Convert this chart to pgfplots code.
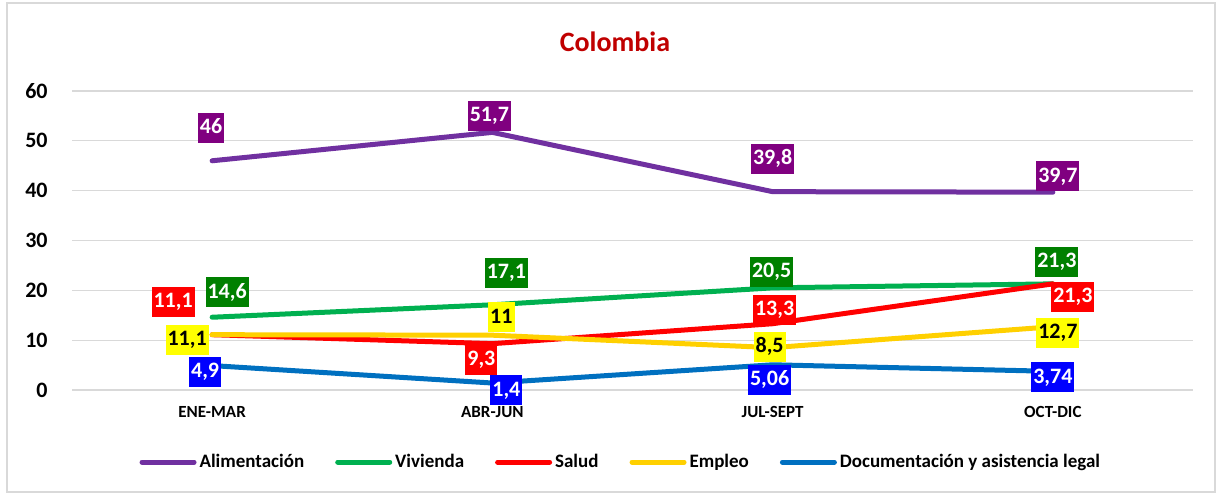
\documentclass[border=0pt]{standalone}
\usepackage{pgfplots}
\pgfplotsset{compat=1.18}
\usepackage{fontspec}
\setmainfont{Carlito}
\definecolor{cAli}{HTML}{7030A0}
\definecolor{cViv}{HTML}{00B050}
\definecolor{cSal}{HTML}{FF0000}
\definecolor{cEmp}{HTML}{FFD000}
\definecolor{cDoc}{HTML}{0070C0}
\definecolor{bAli}{HTML}{800080}
\definecolor{bViv}{HTML}{008000}
\definecolor{bSal}{HTML}{FF0000}
\definecolor{bEmp}{HTML}{FFFF00}
\definecolor{bDoc}{HTML}{0000FF}
\definecolor{cTitle}{HTML}{C00000}
\definecolor{gridc}{HTML}{D9D9D9}
\definecolor{framec}{HTML}{D9D9D9}

\pgfplotstableread{
x y lab dx dy
0 46   46   -0.5 16.5
1 51.7 51,7 -1.5 8.25
2 39.8 39,8 0 16.5
3 39.7 39,7 2.5 8
}\tAli
\pgfplotstableread{
x y lab dx dy
0 14.6 14,6 7.5 12.5
1 17.1 17,1 7 16
2 20.5 20,5 -0.5 8
3 21.3 21,3 2 11
}\tViv
\pgfplotstableread{
x y lab dx dy
0 11.1 11,1 -19.5 16.5
1 9.3  9,3  -5.5 -8
2 13.3 13,3 1 7
3 21.3 21,3 10 -6.5
}\tSal
\pgfplotstableread{
x y lab dx dy
0 11.1 11,1 -12.5 -2.5
1 11   11   4.5 9
2 8.5  8,5  -1.5 0.5
3 12.7 12,7 2.5 -3
}\tEmp
\pgfplotstableread{
x y lab dx dy
0 4.9  4,9  -3.5 -3
1 1.4  1,4  7 -3.5
2 5.06 5,06 -1.5 -7.5
3 3.74 3,74 0 -3
}\tDoc

\pgfplotsset{
  lab/.style 2 args={
    line width=2.5pt, color=#1, line cap=round, line join=round, mark=none,
    point meta=explicit symbolic,
    visualization depends on={\thisrow{dx} \as \dx},
    visualization depends on={\thisrow{dy} \as \dy},
    nodes near coords={\pgfplotspointmeta},
    nodes near coords style={anchor=center, xshift=\dx, yshift=\dy,
      fill=#2, font=\bfseries\fontsize{11}{12}\selectfont,
      text height=8pt, text depth=2pt, inner xsep=1pt, inner ysep=2.5pt},
  },
}

\begin{document}
\begin{tikzpicture}
\fill[white] (0pt,0pt) rectangle (611.5pt,247.5pt);
\draw[color=framec, line width=0.7pt] (3.5pt,1.5pt) rectangle (607.5pt,246pt);
\node[font=\bfseries\fontsize{14}{16}\selectfont, text=cTitle] at (307.5pt,226.5pt) {Colombia};
\begin{axis}[
  at={(36pt,52.5pt)}, anchor=south west,
  scale only axis, width=560.5pt, height=149.5pt,
  xmin=-0.5, xmax=3.5, ymin=0, ymax=60,
  xtick={0,1,2,3},
  xticklabels={ENE-MAR,ABR-JUN,JUL-SEPT,OCT-DIC},
  ytick={0,10,...,60},
  ymajorgrids,
  grid style={color=gridc, line width=0.6pt},
  axis line style={draw=none},
  major tick length=0pt,
  /pgf/number format/assume math mode=true,
  xticklabel style={font=\bfseries\fontsize{8.5}{10}\selectfont, anchor=center, yshift=-11pt},
  yticklabel style={font=\bfseries\fontsize{11}{12}\selectfont, anchor=east, inner sep=0pt, xshift=-12pt},
  clip=false,
  legend columns=5,
  legend style={at={(0.49,-0.241)}, anchor=center, draw=none, fill=none,
    font=\bfseries\fontsize{9.5}{12}\selectfont,
    nodes={inner xsep=1.5pt, inner ysep=1pt},
    /tikz/every even column/.append style={column sep=14pt},
    inner sep=0pt},
  legend image code/.code={\draw[#1, line width=2.5pt, line cap=round] (0pt,0pt) -- (26pt,0pt);},
]
\addplot[lab={cAli}{bAli}, nodes near coords style={text=white}] table[x=x,y=y,meta=lab] {\tAli};
\addlegendentry{Alimentación}
\addplot[lab={cViv}{bViv}, nodes near coords style={text=white}] table[x=x,y=y,meta=lab] {\tViv};
\addlegendentry{Vivienda}
\addplot[lab={cSal}{bSal}, nodes near coords style={text=white}] table[x=x,y=y,meta=lab] {\tSal};
\addlegendentry{Salud}
\addplot[lab={cEmp}{bEmp}, nodes near coords style={text=black}] table[x=x,y=y,meta=lab] {\tEmp};
\addlegendentry{Empleo}
\addplot[lab={cDoc}{bDoc}, nodes near coords style={text=white}] table[x=x,y=y,meta=lab] {\tDoc};
\addlegendentry{Documentación y asistencia legal}
\end{axis}
\end{tikzpicture}
\end{document}
